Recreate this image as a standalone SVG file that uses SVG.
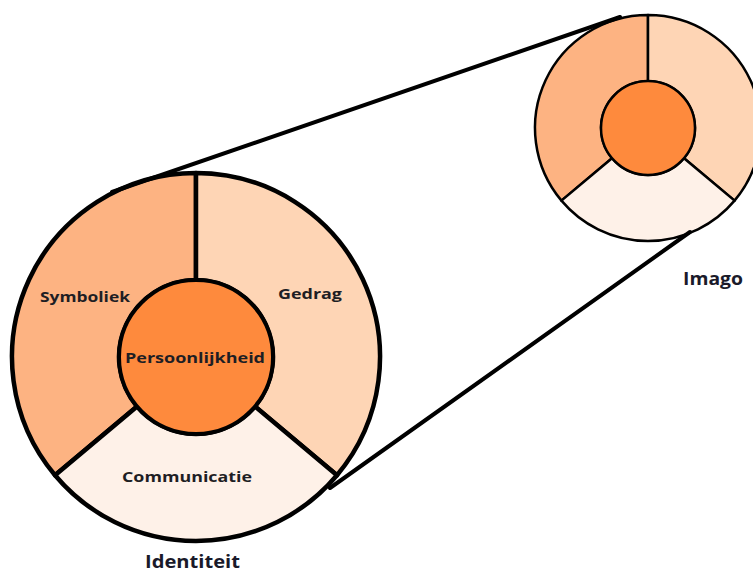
<svg xmlns="http://www.w3.org/2000/svg" width="753" height="574" viewBox="0 0 753 574">
  <style>
    .seg { stroke: #000; stroke-linejoin: round; }
    .big { stroke-width: 4.5; }
    .small { stroke-width: 2.5; }
    .c1 { fill: #FDB382; }
    .c2 { fill: #FED5B5; }
    .c3 { fill: #FEF1E8; }
    .core { fill: #FE8A3D; stroke: #000; }
    .lbl { font-family: "Open Sans", "Liberation Sans", sans-serif; font-weight: 700; fill: #1e1e24; font-size: 14.5px; }
    .ttl { font-family: "Open Sans", "Liberation Sans", sans-serif; font-weight: 700; fill: #1a1a2a; font-size: 17px; }
    .conn { stroke: #000; stroke-width: 4; fill: none; stroke-linecap: round; }
  </style>
  <rect width="753" height="574" fill="#ffffff"/>

  <g id="identiteit">
    <g id="symboliek">
      <path class="seg big c1" d="M 55.05 475.28 A 184 184 0 0 1 196 173 L 196 280 A 77 77 0 0 0 137.02 406.5 Z"/>
      <text class="lbl" x="40" y="302" textLength="90" lengthAdjust="spacingAndGlyphs">Symboliek</text>
    </g>
    <g id="gedrag">
      <path class="seg big c2" d="M 196 173 A 184 184 0 0 1 336.95 475.28 L 254.98 406.5 A 77 77 0 0 0 196 280 Z"/>
      <text class="lbl" x="278" y="299" textLength="64" lengthAdjust="spacingAndGlyphs">Gedrag</text>
    </g>
    <g id="communicatie">
      <path class="seg big c3" d="M 336.95 475.28 A 184 184 0 0 1 55.05 475.28 L 137.02 406.5 A 77 77 0 0 0 254.98 406.5 Z"/>
      <text class="lbl" x="122" y="482" textLength="130" lengthAdjust="spacingAndGlyphs">Communicatie</text>
    </g>
    <g id="persoonlijkheid">
      <circle class="core" cx="196" cy="357" r="77" stroke-width="4"/>
      <text class="lbl" x="125" y="363" textLength="140" lengthAdjust="spacingAndGlyphs">Persoonlijkheid</text>
    </g>
    <text class="ttl" x="145" y="568" textLength="95" lengthAdjust="spacingAndGlyphs">Identiteit</text>
  </g>

  <g id="imago">
    <path class="seg small c1" d="M 561.44 200.64 A 113 113 0 0 1 648 15 L 648 81 A 47 47 0 0 0 612 158.21 Z"/>
    <path class="seg small c2" d="M 648 15 A 113 113 0 0 1 734.56 200.64 L 684 158.21 A 47 47 0 0 0 648 81 Z"/>
    <path class="seg small c3" d="M 734.56 200.64 A 113 113 0 0 1 561.44 200.64 L 612 158.21 A 47 47 0 0 0 684 158.21 Z"/>
    <circle class="core" cx="648" cy="128" r="47" stroke-width="2.5"/>
    <text class="ttl" x="683" y="285" textLength="60" lengthAdjust="spacingAndGlyphs">Imago</text>
  </g>

  <g id="connectors">
    <line class="conn" x1="112" y1="192" x2="620" y2="17"/>
    <line class="conn" x1="330" y1="488" x2="690" y2="232"/>
  </g>
</svg>
